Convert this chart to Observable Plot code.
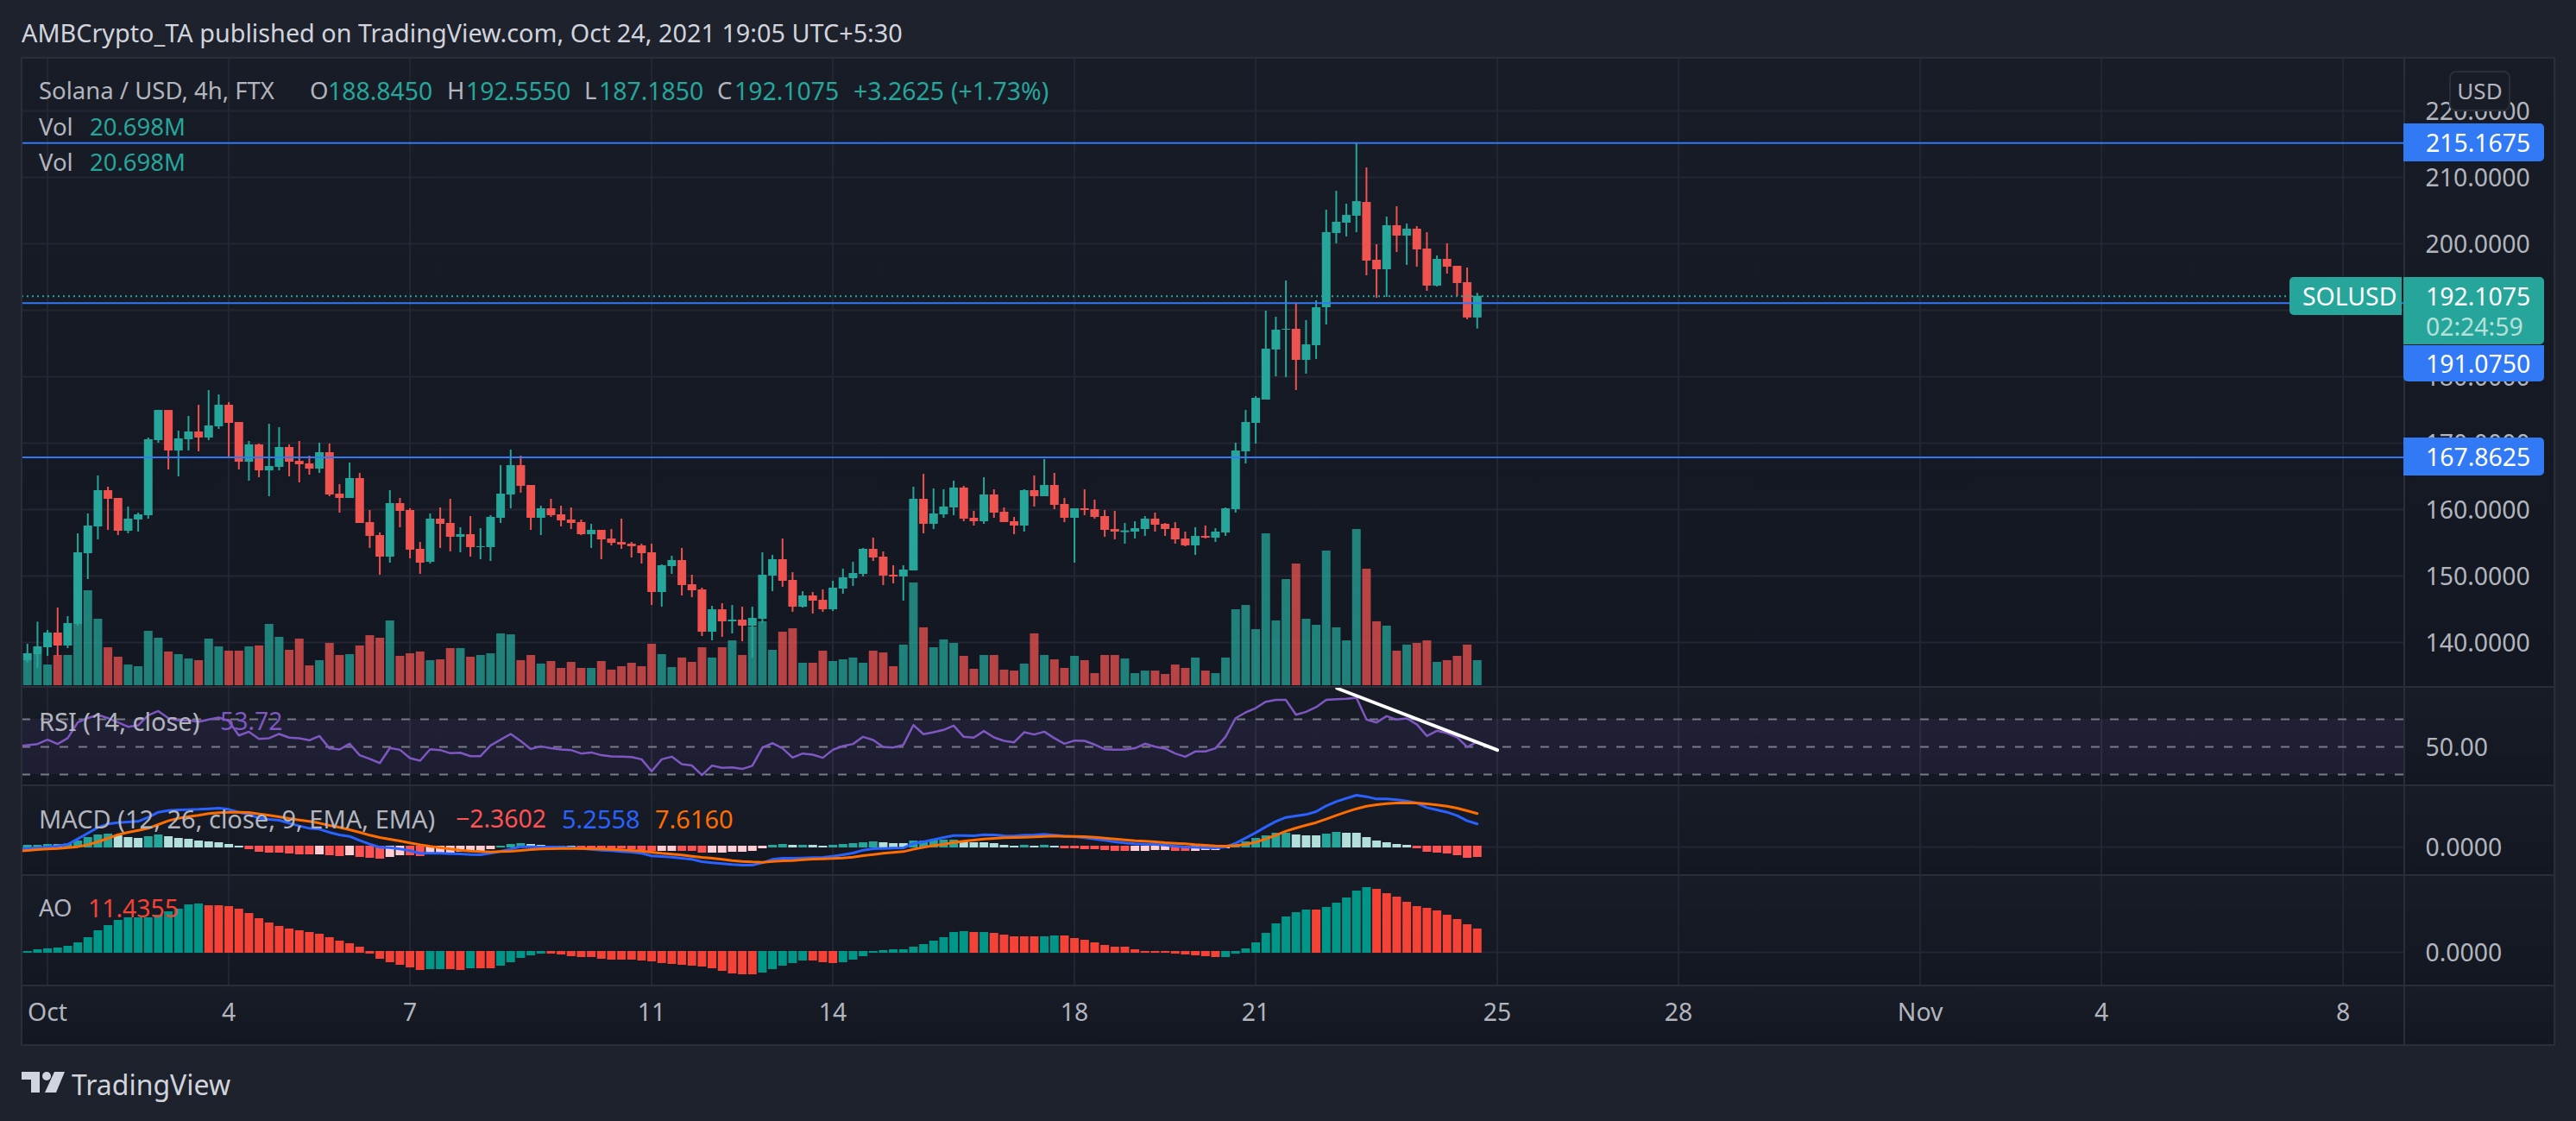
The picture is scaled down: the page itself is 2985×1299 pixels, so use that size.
<!DOCTYPE html>
<html><head><meta charset="utf-8">
<script src="https://cdn.jsdelivr.net/npm/d3@7"></script>
<script src="https://cdn.jsdelivr.net/npm/@observablehq/plot@0.6"></script>
<style>
html,body{margin:0;padding:0;background:#1e222d;width:2985px;height:1299px;overflow:hidden}
#chart{position:absolute;left:0;top:0;width:2985px;height:1299px;font-family:"Noto Sans",sans-serif;}
.abs{position:absolute;white-space:pre;line-height:1;transform:translateY(-50%)}
.box{position:absolute}
.tag{position:absolute;color:#fff;font-size:28.4px;line-height:1;box-sizing:border-box}
.tag span{position:absolute;white-space:pre;transform:translateY(-50%)}
svg{overflow:visible}
</style></head><body><div id="chart"></div>
<script>
// ---------- data (4h bars) ----------
const opens=[137.27,138.18,139.22,141.43,139.48,142.73,153.38,157.40,162.86,161.69,
156.75,158.44,159.09,170.39,174.93,168.83,170.52,171.69,170.78,172.47,
175.71,173.12,167.14,169.74,165.84,166.36,169.35,167.27,166.88,166.10,
168.57,162.34,161.69,164.68,158.05,156.10,152.86,160.91,159.87,154.03,
152.08,158.57,157.92,155.84,156.23,154.29,154.29,158.70,162.21,166.62,
163.64,158.70,160.13,159.22,158.44,158.05,156.23,156.88,155.58,155.06,
154.81,154.55,153.51,147.53,151.43,152.34,148.70,147.92,141.56,144.93,
143.12,143.38,142.47,143.51,150.00,152.47,149.35,145.32,147.01,146.36,
144.93,148.05,149.61,150.26,154.03,152.86,150.13,149.87,150.78,161.56,
157.79,159.22,160.26,163.25,158.70,158.18,162.21,159.61,158.18,157.53,
162.86,161.95,163.64,160.78,158.70,160.13,160.00,158.96,157.01,156.54,
156.62,157.01,158.57,157.79,157.14,155.58,154.55,155.97,155.71,156.49,
160.00,168.70,172.99,176.49,184.03,187.01,187.14,182.47,184.67,190.39,
201.56,203.12,204.16,206.23,197.53,196.10,202.73,201.17,202.21,199.22,
193.64,197.66,196.62,194.16,188.845];
const highs=[139.74,143.07,141.82,145.19,143.90,156.36,159.35,165.07,163.38,161.69,
160.39,159.48,170.78,174.93,174.93,171.82,174.03,175.71,177.92,177.27,
176.10,173.12,170.26,169.87,172.86,172.34,169.74,170.26,168.05,170.00,
169.87,163.77,167.01,165.45,159.87,156.49,162.86,161.69,160.13,155.06,
159.35,160.26,161.56,157.27,158.96,157.14,159.09,166.62,168.96,168.05,
163.64,160.52,161.56,160.52,160.26,158.44,157.79,156.88,157.01,158.57,
155.06,154.81,154.81,151.69,152.99,154.16,150.13,148.18,145.45,145.84,
145.58,145.32,145.32,153.51,153.12,155.58,150.52,147.66,147.53,147.92,
149.22,151.04,152.08,154.16,155.71,153.64,151.56,151.56,163.38,165.32,
163.12,162.99,164.29,163.51,159.74,164.81,162.99,160.26,158.83,162.99,
165.07,167.53,165.45,161.69,160.13,162.99,161.43,159.87,159.74,157.92,
158.18,158.96,159.48,157.92,158.05,156.62,157.27,157.53,157.14,160.26,
170.00,174.93,177.01,189.87,188.96,194.41,191.04,188.44,191.43,205.07,
207.92,205.97,215.17,211.43,199.87,204.03,205.58,202.99,202.60,201.69,
198.18,200.00,196.62,196.36,192.555];
const lows=[136.93,136.10,137.92,137.92,139.09,142.47,149.48,155.45,156.88,156.10,
156.36,156.62,158.57,170.00,165.97,164.93,168.83,168.70,170.39,172.08,
167.79,165.97,164.29,164.81,161.95,165.84,164.93,164.03,165.19,165.45,
161.95,159.48,161.69,157.92,154.16,150.13,151.95,157.27,152.60,150.26,
151.82,154.16,153.64,153.51,152.86,152.47,152.21,157.92,160.13,162.47,
156.88,156.10,158.83,157.40,157.01,156.10,154.16,152.47,154.55,154.03,
152.73,151.82,145.58,145.32,150.26,147.01,146.75,140.91,140.26,140.78,
141.30,140.13,137.66,142.90,147.66,148.31,144.55,145.19,144.29,144.55,
144.68,147.27,148.44,149.87,152.21,148.57,148.83,146.23,150.78,156.36,
157.01,158.70,159.09,158.18,157.53,157.79,158.70,158.05,156.23,156.62,
160.39,161.95,160.00,158.05,151.95,159.09,158.57,155.84,155.45,154.81,
155.58,155.97,156.62,155.97,154.81,154.42,153.12,155.58,155.06,155.97,
159.48,166.88,169.87,176.49,180.00,179.87,177.92,180.39,182.60,187.79,
200.00,201.04,201.69,195.19,191.82,191.95,198.70,196.75,196.49,192.86,
193.51,195.45,192.08,188.57,187.185];
const closes=[138.31,139.35,141.43,139.48,142.86,153.51,157.53,162.86,161.56,156.75,
158.57,159.22,170.52,174.93,168.83,170.65,171.69,170.78,172.60,175.71,
172.99,167.14,169.74,165.84,166.49,169.35,167.14,166.75,166.10,168.57,
162.21,161.69,164.68,157.92,155.97,152.86,160.91,159.74,153.90,151.95,
158.57,157.79,155.84,156.23,154.29,154.42,158.83,162.34,166.62,163.51,
158.70,160.13,159.09,158.31,157.92,156.23,156.88,155.45,154.93,154.68,
154.42,153.38,147.53,151.56,152.34,148.57,147.79,141.56,144.93,143.12,
143.38,142.47,143.64,150.13,152.47,149.22,145.32,147.01,146.23,144.93,
148.18,149.74,150.39,154.03,152.73,150.00,149.87,150.91,161.56,157.79,
159.35,160.39,163.25,158.57,158.18,162.21,159.48,158.05,157.53,162.86,
161.95,163.64,160.65,158.70,160.13,159.87,158.83,156.88,156.62,156.80,
157.14,158.57,157.66,157.01,155.45,154.55,155.97,155.71,156.62,160.13,
168.83,173.12,176.75,184.15,187.01,187.14,182.47,184.80,190.39,201.69,
203.25,204.29,206.36,197.40,196.10,202.73,201.17,202.21,199.09,193.64,
197.66,196.49,194.03,188.85,192.1075];
const volumes=[20.7,25.7,17.1,25.0,25.0,50.7,78.6,55.0,31.4,23.6,
17.1,15.7,45.0,39.3,27.9,25.7,22.1,20.7,38.6,32.1,
28.6,28.6,32.1,32.9,50.7,40.0,29.3,38.6,16.4,20.7,
35.0,25.0,25.7,32.9,41.4,39.3,53.6,24.3,26.4,27.9,
20.7,21.4,30.7,30.7,23.6,25.0,26.4,42.9,42.1,20.7,
25.0,17.9,20.0,14.3,19.3,14.3,14.3,20.0,12.9,15.7,
18.6,15.7,34.3,25.7,15.0,22.9,19.3,31.4,22.9,31.4,
37.1,25.0,48.6,52.9,29.3,44.3,47.1,18.6,18.6,28.6,
20.0,21.4,22.9,18.6,28.6,27.1,15.7,33.6,85.0,47.9,
31.4,37.9,35.0,24.3,13.6,25.0,25.0,12.9,12.1,17.9,
42.9,25.0,21.4,14.3,24.3,20.7,10.0,25.0,25.0,22.1,
10.0,12.1,12.1,9.3,17.1,14.3,22.9,12.1,10.0,22.9,
62.9,66.4,46.4,125.7,53.6,87.9,100.7,55.0,50.0,111.4,
47.9,37.1,129.3,96.4,52.9,49.3,28.6,33.6,35.0,37.1,
19.3,20.7,24.3,33.6,20.698];
// indicator lines start one bar before the first candle
const rsi=[50.4,51.3,52.1,55.2,52.1,56.3,67.7,70.8,73.3,70.8,67.7,
64.6,65.6,72.9,76.0,70.8,69.2,69.4,68.1,69.8,71.3,
68.8,58.3,61.0,55.8,56.3,59.4,56.7,56.3,54.8,57.9,
49.0,48.1,52.3,44.0,41.3,38.3,49.2,47.9,41.9,40.0,
48.3,47.7,45.4,45.8,43.3,43.3,51.0,55.2,59.4,54.2,
48.5,50.4,49.0,48.1,47.7,45.2,46.0,44.0,43.1,42.9,
42.7,41.0,32.3,41.0,42.9,37.5,36.5,29.6,36.5,34.8,
35.2,34.0,36.3,49.4,52.7,49.0,42.3,45.2,44.4,42.1,
47.9,50.6,52.1,57.3,55.0,50.0,49.6,51.5,65.8,59.2,
60.6,62.3,65.4,57.3,56.7,61.5,56.9,54.4,53.3,60.6,
59.0,61.0,56.3,52.3,54.6,54.4,51.7,48.3,47.9,48.1,
49.0,52.3,50.2,48.8,45.2,42.9,46.7,46.7,49.0,57.3,
70.8,75.0,78.1,82.7,84.0,84.0,73.3,75.4,78.8,84.0,
84.6,84.8,85.6,69.8,67.7,72.3,69.8,70.6,66.3,57.9,
61.7,60.0,56.9,50.0,53.72];
const macdLine=[-0.39,-0.33,-0.20,0.00,0.20,0.59,1.84,3.15,4.46,5.25,5.57,
5.70,5.84,6.75,7.93,8.33,8.46,8.52,8.59,8.72,8.85,
8.59,7.93,7.41,6.62,6.29,6.10,5.44,4.79,4.26,4.07,
3.34,2.75,2.43,1.51,0.66,-0.07,-0.13,-0.46,-0.85,-1.44,
-1.44,-1.44,-1.51,-1.57,-1.70,-1.77,-1.44,-0.98,-0.46,0.07,
0.07,0.00,0.00,-0.07,-0.13,-0.33,-0.52,-0.72,-0.85,-1.05,
-1.18,-1.44,-2.03,-2.16,-2.30,-2.56,-2.82,-3.34,-3.61,-3.80,
-4.00,-4.13,-4.13,-3.61,-2.82,-2.56,-2.56,-2.49,-2.43,-2.36,
-2.10,-1.77,-1.38,-0.72,-0.39,-0.33,-0.26,-0.20,0.79,1.18,
1.70,2.16,2.62,2.62,2.56,2.82,2.75,2.56,2.49,2.69,
2.75,2.89,2.69,2.49,2.36,2.10,1.84,1.51,1.18,0.92,
0.72,0.66,0.59,0.46,0.20,0.00,-0.07,-0.13,-0.20,0.00,
0.85,2.03,3.28,4.59,5.84,6.75,7.08,7.41,8.07,9.38,
10.36,11.08,11.80,11.48,10.95,10.95,10.75,10.49,10.03,8.98,
8.46,7.93,7.15,5.97,5.2558];
const signalLine=[-0.98,-0.79,-0.59,-0.46,-0.33,-0.13,0.07,0.52,1.18,1.97,2.82,
3.34,3.80,4.26,5.11,5.97,6.56,6.95,7.21,7.61,7.80,
7.93,7.93,7.87,7.54,7.21,6.88,6.49,6.16,5.84,5.44,
4.92,4.46,3.93,3.34,2.69,2.16,1.77,1.38,0.92,0.52,
0.13,-0.13,-0.46,-0.72,-0.92,-1.05,-1.11,-1.05,-0.98,-0.79,
-0.59,-0.46,-0.39,-0.33,-0.33,-0.33,-0.39,-0.46,-0.52,-0.66,
-0.79,-0.92,-1.18,-1.44,-1.64,-1.84,-2.10,-2.36,-2.56,-2.82,
-3.08,-3.28,-3.41,-3.48,-3.28,-3.15,-3.08,-2.89,-2.75,-2.69,
-2.62,-2.49,-2.30,-1.97,-1.70,-1.44,-1.25,-1.05,-0.52,-0.07,
0.33,0.59,1.05,1.31,1.57,1.84,1.97,2.10,2.16,2.23,
2.30,2.43,2.49,2.43,2.43,2.36,2.23,2.03,1.84,1.64,
1.44,1.31,1.18,0.98,0.85,0.72,0.52,0.39,0.26,0.20,
0.33,0.59,1.11,1.84,2.69,3.61,4.33,4.98,5.57,6.36,
7.21,8.00,8.72,9.31,9.64,9.90,10.03,10.10,10.03,9.84,
9.57,9.31,8.85,8.26,7.616];
const macdHist=[0.39,0.39,0.59,0.52,0.7,1.38,2.16,2.75,2.95,2.56,
2.16,1.97,2.36,2.75,2.36,1.97,1.77,1.38,1.18,0.98,
0.59,0.2,-0.59,-1.18,-1.38,-1.38,-1.57,-1.77,-1.77,-1.77,
-1.97,-2.16,-1.97,-2.36,-2.56,-2.75,-2.36,-1.97,-1.97,-2.16,
-1.77,-1.38,-1.38,-1.18,-1.18,-0.98,-0.59,0.2,0.59,0.79,
0.59,0.39,0.2,0.2,0.2,-0.2,-0.25,-0.39,-0.39,-0.39,
-0.59,-0.79,-0.98,-0.98,-0.98,-0.98,-0.98,-1.38,-1.38,-1.38,
-1.18,-1.18,-0.98,-0.39,0.39,0.59,0.39,0.39,0.39,0.2,
0.39,0.59,0.79,0.98,1.18,0.98,0.79,0.79,1.38,1.38,
1.57,1.57,1.57,1.18,0.98,0.98,0.79,0.39,0.2,0.39,
0.2,0.39,0.2,-0.39,-0.39,-0.59,-0.59,-0.79,-0.98,-0.98,
-0.98,-0.98,-0.79,-0.79,-0.98,-0.98,-0.98,-0.79,-0.79,-0.39,
0.39,1.18,1.97,2.56,3.15,3.15,2.75,2.56,2.56,2.95,
3.34,3.15,3.15,2.16,1.38,0.98,0.59,0.39,-0.39,-1.18,
-1.38,-1.57,-1.97,-2.56,-2.3602];
const macdHistKind=("TTTPTTTTTP"+"PPTTPPPPPP"+"PPRRRRRRRK"+"RRKRRRKKRR"+"KKKKKKKTTT"+
"PPPTPRRRRR"+"RRRKKRRRKK"+"KKKKTTPTPP"+"TTTTTPPPTT"+"TTTPPPPPPT"+
"PTPRRRRRRR"+"KKKKRRKKKK"+"TTTTTTPPPT"+"TPPPPPPPRR"+"RRRRR").split("");
const ao=[0.4,1.27,1.69,2.11,2.96,4.65,7.18,10.56,13.10,15.63,
16.90,16.90,16.90,18.17,19.86,21.13,23.24,23.66,22.82,22.82,
22.39,21.13,19.01,16.48,14.37,12.68,11.41,10.56,9.72,8.87,
7.18,5.49,4.23,2.54,-0.85,-3.38,-5.07,-6.34,-7.61,-8.87,
-8.45,-8.45,-8.45,-8.87,-8.03,-8.03,-8.03,-6.76,-5.07,-2.96,
-1.69,-0.85,-0.85,-1.27,-2.11,-2.54,-2.54,-3.38,-3.80,-3.80,
-3.80,-4.23,-4.65,-5.49,-5.92,-6.34,-6.76,-7.18,-8.03,-9.30,
-10.56,-10.99,-10.99,-10.14,-8.45,-6.76,-5.49,-4.23,-4.23,-5.07,
-5.49,-5.07,-3.80,-2.11,-0.42,0.85,1.27,1.27,2.54,3.80,
5.49,7.18,9.72,10.14,9.72,9.72,9.30,8.45,7.61,7.61,
7.61,7.61,8.03,8.03,6.76,5.92,4.65,3.38,2.54,2.54,
1.27,0.42,0.42,0.42,-0.85,-1.27,-1.69,-2.11,-2.54,-2.54,
-0.85,1.69,4.65,9.30,13.94,17.32,19.44,20.70,20.70,21.97,
24.08,26.62,30.00,31.69,30.85,28.73,27.04,24.51,22.39,21.55,
20.28,18.17,16.06,13.52,11.4355];
const aoKind=("GGGGGGGGGG"+"GGGGGGGGRR"+"RRRRRRRRRR"+"RRRRRRRRRR"+"GGRRGRRGGG"+
"GGRRRRRRRR"+"RRRRRRRRRR"+"RRRGGGGGRR"+"RGGGGGGGGG"+"GGGGRGRRRR"+
"RGGRRRRRRR"+"RRRRRRRRRG"+"GGGGGGGGRG"+"GGGGRRRRRR"+"RRRRR").split("");

const priceTicks=[140,150,160,170,180,190,200,210,220];
const hLevels=[215.1675,191.075,167.8625];
const lastPrice=192.1075;
const dayTicks=[[2021,9,1,"Oct"],[2021,9,4,"4"],[2021,9,7,"7"],[2021,9,11,"11"],[2021,9,14,"14"],
[2021,9,18,"18"],[2021,9,21,"21"],[2021,9,25,"25"],[2021,9,28,"28"],[2021,10,1,"Nov"],[2021,10,4,"4"],[2021,10,8,"8"]]
 .map(([y,m,d,label])=>({date:new Date(Date.UTC(y,m,d)),label}));
const rsiLevels=[70,50,30];
const trendline=[{date:new Date(Date.UTC(2021,9,22,8,15)),v:92.5},{date:new Date(Date.UTC(2021,9,25)),v:47.7}];

// ---------- tables for the library ----------
const H4=4*3600*1000, T0=Date.UTC(2021,8,30,16);
const barDate=i=>new Date(T0+i*H4);
const bars=opens.map((o,i)=>({date:barDate(i),o,h:highs[i],l:lows[i],c:closes[i],v:volumes[i],hist:macdHist[i],kind:macdHistKind[i],ao:ao[i],aoKind:aoKind[i]}));
const lineRows=rsi.map((r,k)=>({date:barDate(k-1),rsi:r,macd:macdLine[k],signal:signalLine[k]}));

const UP="#26a69a",DOWN="#ef5350",BLUE="#3179f5",GRID="#242733",FRAME="#2a2e39",LABEL="#b2b5be";
const HISTC={T:"#26a69a",P:"#b2dfdb",K:"#ffcdd2",R:"#ff5252"};
const AOC={G:"#009688",R:"#f44336"};
const FONT='"Noto Sans",sans-serif', FS=27.5, NUM=28.4;

const root=document.getElementById("chart");
const xScale={type:"utc",domain:[new Date(Date.UTC(2021,9,1)),new Date(Date.UTC(2021,9,25))],range:[54.6,1734.6],axis:null};
const LEFT=25,RIGHT=2786,OUTER=2960,TOP=67,BOTTOM=1211;
const panes=[[67,729],[796,114],[910,104],[1014,128],[1142,69]];
const dayDates=dayTicks.map(d=>d.date);

function box(l,t,w,h,css){const d=document.createElement("div");d.className="box";d.style.cssText=`left:${l}px;top:${t}px;width:${w}px;height:${h}px;${css}`;root.appendChild(d);return d;}
function txt(s,l,cy,color,size=FS){const d=document.createElement("div");d.className="abs";d.textContent=s;d.style.cssText=`left:${l}px;top:${cy}px;color:${color};font-size:${size}px`;root.appendChild(d);return d;}
function pane(top,height,y,marks){
  const p=Plot.plot({width:2985,height,marginLeft:LEFT,marginRight:2985-RIGHT,marginTop:0,marginBottom:0,
    x:xScale,y:y?{...y,axis:null}:undefined,style:{background:"transparent",overflow:"visible",fontFamily:FONT},marks});
  p.style.cssText+=`;position:absolute;left:0;top:${top}px;`;
  root.appendChild(p);return p;
}
const grid=()=>Plot.gridX({ticks:dayDates,stroke:GRID,strokeOpacity:1,strokeWidth:2});
function yAxis(ticks,fmt){return Plot.axisY({anchor:"right",ticks,tickFormat:fmt,tickSize:0,tickPadding:24,fontSize:NUM,fill:LABEL,label:null,dy:1.5});}
function yGrid(ticks){return Plot.gridY({ticks,stroke:GRID,strokeOpacity:1,strokeWidth:2});}

// pane backgrounds
for(const [t,h] of panes) box(LEFT,t,OUTER-LEFT,h,"background:linear-gradient(#181c27,#131722)");

// price pane
const priceY={domain:[140,220],range:[677,61]};
pane(67,729,priceY,[grid(),yGrid(priceTicks),yAxis(priceTicks,d=>d.toFixed(4))]);
pane(67,729,{domain:[0,100],range:[727,587]},[
  Plot.ruleX(bars,{filter:d=>d.c>=d.o,x:"date",y1:0,y2:"v",stroke:UP,strokeOpacity:.75,strokeWidth:10}),
  Plot.ruleX(bars,{filter:d=>d.c<d.o,x:"date",y1:0,y2:"v",stroke:DOWN,strokeOpacity:.75,strokeWidth:10})
]);
const pricePlot=pane(67,729,priceY,[
  Plot.ruleX(bars,{filter:d=>d.c>=d.o,x:"date",y1:"l",y2:"h",stroke:UP,strokeWidth:2}),
  Plot.ruleX(bars,{filter:d=>d.c<d.o,x:"date",y1:"l",y2:"h",stroke:DOWN,strokeWidth:2}),
  Plot.ruleX(bars,{filter:d=>d.c>=d.o,x:"date",y1:"o",y2:"c",stroke:UP,strokeWidth:10}),
  Plot.ruleX(bars,{filter:d=>d.c<d.o,x:"date",y1:"o",y2:"c",stroke:DOWN,strokeWidth:10}),
  Plot.ruleY([lastPrice],{stroke:UP,strokeWidth:2,strokeDasharray:"2 4"}),
  Plot.ruleY(hLevels,{stroke:BLUE,strokeWidth:2})
]);

// RSI pane
const xEdges=[new Date(T0-4*H4),new Date(Date.UTC(2021,10,12))];
pane(796,114,{domain:[30,70],range:[101,37]},[
  grid(),
  Plot.rect([{}],{x1:()=>xEdges[0],x2:()=>xEdges[1],y1:()=>30,y2:()=>70,fill:"#7e57c2",fillOpacity:.1,clip:true}),
  Plot.ruleY(rsiLevels,{stroke:"#787b86",strokeWidth:2,strokeDasharray:"10 12"}),
  yAxis([50],d=>d.toFixed(2)),
  Plot.line(lineRows,{x:"date",y:"rsi",stroke:"#7e57c2",strokeWidth:2.5,clip:true}),
  Plot.line(trendline,{x:"date",y:"v",stroke:"#ffffff",strokeWidth:4})
]);

// MACD pane
pane(910,104,{domain:[0,10],range:[71,20.17]},[
  grid(),yGrid([0]),yAxis([0],d=>d.toFixed(4)),
  ...Object.keys(HISTC).map(k=>Plot.ruleX(bars,{filter:d=>d.kind===k,x:"date",y1:d=>d.hist>=0?-0.2:0.2,y2:"hist",stroke:HISTC[k],strokeWidth:10})),
  Plot.line(lineRows,{x:"date",y:"macd",stroke:"#2962ff",strokeWidth:3,clip:true}),
  Plot.line(lineRows,{x:"date",y:"signal",stroke:"#ff6d00",strokeWidth:3,clip:true})
]);

// AO pane
pane(1014,128,{domain:[0,20],range:[89,41.67]},[
  grid(),yGrid([0]),yAxis([0],d=>d.toFixed(4)),
  ...Object.keys(AOC).map(k=>Plot.ruleX(bars,{filter:d=>d.aoKind===k,x:"date",y1:d=>d.ao>=0?-0.42:0.42,y2:"ao",stroke:AOC[k],strokeWidth:10}))
]);

// time axis: the svg ends at the top of the axis strip, labels hang below it
pane(1142-69,69,null,[
  Plot.axisX({anchor:"bottom",ticks:dayDates,tickFormat:d=>dayTicks.find(t=>+t.date===+d).label,tickSize:0,tickPadding:20,fontSize:NUM,fill:LABEL,label:null})
]);

// frame lines
const line=(l,t,w,h)=>box(l,t,w,h,`background:${FRAME}`);
line(LEFT-1,TOP-1,OUTER-LEFT+2,2);line(LEFT-1,BOTTOM-1,OUTER-LEFT+2,2);
line(LEFT-1,TOP-1,2,BOTTOM-TOP+2);line(OUTER-1,TOP-1,2,BOTTOM-TOP+2);line(RIGHT-1,TOP-1,2,BOTTOM-TOP+2);
for(const y of [796,910,1014,1142]) line(LEFT-1,y-1,OUTER-LEFT+2,2);

// tags on the price scale, placed through the price scale
const py=v=>67+pricePlot.scale("y").apply(v);
function tag(l,t,w,h,bg,radius,rows){
  const d=document.createElement("div");d.className="tag";
  d.style.cssText=`left:${l}px;top:${t}px;width:${w}px;height:${h}px;background:${bg};border-radius:${radius}`;
  for(const [s,x,cy,c] of rows){const e=document.createElement("span");e.textContent=s;e.style.cssText=`left:${x}px;top:${cy}px;color:${c||"#fff"}`;d.appendChild(e);}
  root.appendChild(d);
}
const lastY=py(lastPrice);
tag(2653,lastY-22,130,44,UP,"5px 0 0 5px",[["SOLUSD",15,22]]);
tag(2785,py(191.075)+49,163,42,BLUE,"0 0 5px 5px",[["191.0750",26,21]]);
tag(2785,lastY-22,163,78,UP,"0 5px 5px 0",[["192.1075",26,22],["02:24:59",26,57,"rgba(255,255,255,.68)"]]);
tag(2785,py(215.1675)-22,163,44,BLUE,"0 5px 5px 0",[["215.1675",26,22]]);
tag(2785,py(167.8625)-22,163,44,BLUE,"0 5px 5px 0",[["167.8625",26,22]]);
const usd=box(2838,82,71,47,`background:#181c27;border:2px solid ${FRAME};border-radius:8px;box-sizing:border-box;color:${LABEL};font-size:26px;text-align:center;line-height:42px`);
usd.textContent="USD";

// legends
txt("AMBCrypto_TA published on TradingView.com, Oct 24, 2021 19:05 UTC+5:30",25,38,"#d1d4dc",28.8);
txt("Solana / USD, 4h, FTX",45,105,LABEL);
txt("O",359,105,LABEL);txt("188.8450",380,105,UP,NUM);
txt("H",518,105,LABEL);txt("192.5550",540,105,UP,NUM);
txt("L",677,105,LABEL);txt("187.1850",694,105,UP,NUM);
txt("C",831,105,LABEL);txt("192.1075",851,105,UP,NUM);
txt("+3.2625",989,105,UP,NUM);txt("(+1.73%)",1102,105,UP,NUM);
txt("Vol",45,147,LABEL);txt("20.698M",104,147,UP);
txt("Vol",45,188,LABEL);txt("20.698M",104,188,UP);
txt("RSI (14, close)",45,835,LABEL,29);txt("53.72",255,835,"#7e57c2",NUM);
txt("MACD (12, 26, close, 9, EMA, EMA)",45,948,LABEL,29);
txt("\u22122.3602",528,948,"#ff5252",NUM);txt("5.2558",651,948,"#2962ff",29);txt("7.6160",759,948,"#ff6d00",29);
txt("AO",45,1052,LABEL);txt("11.4355",102,1052,"#f44336",NUM);

// logo
const logo=document.createElementNS("http://www.w3.org/2000/svg","svg");
logo.setAttribute("width","52");logo.setAttribute("height","26");logo.setAttribute("viewBox","0 0 52 26");
logo.style.cssText="position:absolute;left:25px;top:1241px";
logo.innerHTML='<path fill="#d1d4dc" d="M0 1H21V25H11V10H0Z"/><circle fill="#d1d4dc" cx="29" cy="6" r="5"/><path fill="#d1d4dc" d="M38 1H50L40 25H27Z"/>';
root.appendChild(logo);
txt("TradingView",83,1257,"#d1d4dc",32);
</script></body></html>
